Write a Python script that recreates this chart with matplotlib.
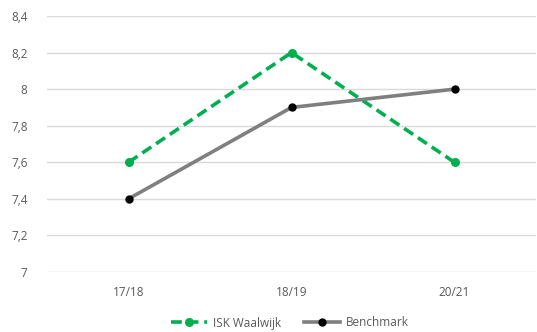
import matplotlib
matplotlib.use("Agg")
import matplotlib.pyplot as plt
from matplotlib.ticker import FuncFormatter

seasons = ["17/18", "18/19", "20/21"]
isk_waalwijk = [7.6, 8.2, 7.6]
benchmark = [7.4, 7.9, 8.0]
y_ticks = [7.0, 7.2, 7.4, 7.6, 7.8, 8.0, 8.2, 8.4]

plt.rcParams["font.family"] = ["Open Sans", "DejaVu Sans"]

fig = plt.figure(figsize=(5.37, 3.32), dpi=100)
ax = fig.add_axes([47 / 537, 1 - 272 / 332, 489 / 537, 256 / 332])

x = range(len(seasons))
ax.plot(x, isk_waalwijk, color="#00B050", lw=2.6, ls=(0, (3, 1.6)),
        marker="o", ms=5.5, mfc="#00B050", mec="#00B050", label="ISK Waalwijk", zorder=3)
ax.plot(x, benchmark, color="#7F7F7F", lw=2.6, marker="o", ms=5,
        mfc="#000000", mec="#000000", label="Benchmark", zorder=3)

ax.set_xlim(-0.5, len(seasons) - 0.5)
ax.set_ylim(7.0, 8.4)
ax.set_yticks(y_ticks)
ax.yaxis.set_major_formatter(FuncFormatter(lambda v, p: f"{v:g}".replace(".", ",")))
ax.set_xticks(list(x))
ax.set_xticklabels(seasons)

ax.grid(axis="y", color="#D9D9D9", lw=1)
ax.set_axisbelow(True)
for s in ax.spines.values():
    s.set_visible(False)
ax.tick_params(axis="both", length=0, labelsize=8.5, colors="#595959", pad=10)
ax.tick_params(axis="y", pad=14)

leg = fig.legend(loc="center", bbox_to_anchor=(290 / 537, 1 - 323 / 332), ncol=2,
                 frameon=False, fontsize=8.5, handlelength=3.0, columnspacing=2.0,
                 handletextpad=0.5)
for t in leg.get_texts():
    t.set_color("#595959")

fig.savefig("out.png", dpi=100)
